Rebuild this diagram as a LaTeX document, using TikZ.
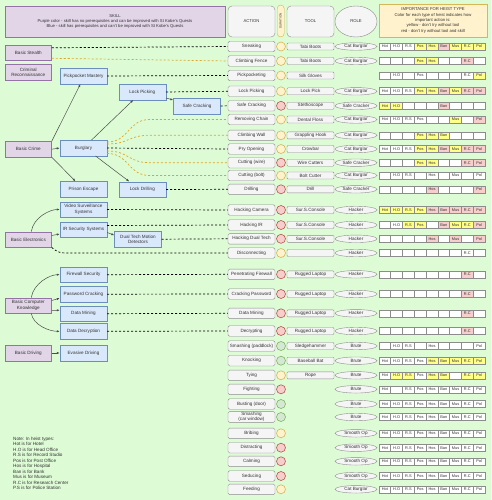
\documentclass[tikz,border=0pt]{standalone}
\usepackage{fontspec}
\setmainfont{Liberation Sans}
\usetikzlibrary{
  positioning,
  arrows.meta,
  calc,
  shapes.geometric
}
\definecolor{bgcol}{HTML}{DDFBD5}
\definecolor{skillpurple}{HTML}{E1D5E7}
\definecolor{skillpurpleline}{HTML}{9673A6}
\definecolor{skillblue}{HTML}{DAE8FC}
\definecolor{skillblueline}{HTML}{6C8EBF}
\definecolor{boxgray}{HTML}{F5F5F5}
\definecolor{boxline}{HTML}{8C8C8C}
\definecolor{textgray}{HTML}{333333}
\definecolor{yelfill}{HTML}{FFF2CC}
\definecolor{yeldraw}{HTML}{D6B656}
\definecolor{redfill}{HTML}{F8CECC}
\definecolor{reddraw}{HTML}{B85450}
\definecolor{grnfill}{HTML}{D5E8D4}
\definecolor{grndraw}{HTML}{82B366}
\definecolor{hcw}{HTML}{FFFFFF}
\definecolor{hce}{HTML}{FFFFFF}
\definecolor{hcy}{HTML}{FFFF88}
\definecolor{hcr}{HTML}{F8CECC}
\definecolor{golddash}{HTML}{DDA624}
\newcommand{\diagfont}{\fontsize{4.6}{5.4}\selectfont}
\newcommand{\hdrfont}{\fontsize{4.2}{5.3}\selectfont}
\newcommand{\cellfont}{\fontsize{3.9}{4.5}\selectfont}
\newcommand{\heistlab}[1]{\ifcase#1\or Hot\or H.O\or R.S\or Pos\or Hos\or Ban\or Mus\or R.C\or Pol\fi}

\begin{document}
\begin{tikzpicture}[
  x=1pt, y=-1pt,
  every node/.style={text=textgray},
  basic/.style={draw=skillpurpleline, fill=skillpurple, minimum width=46.5, minimum height=15.5,
                align=center, font=\diagfont, inner sep=1pt},
  adv/.style={draw=skillblueline, fill=skillblue, minimum width=47, minimum height=15.5,
              align=center, font=\diagfont, inner sep=1pt},
  action/.style={draw=boxline, fill=boxgray, rounded corners=1.5, minimum width=47,
                 minimum height=10.5, align=center, font=\diagfont, inner sep=0.5pt},
  durdot/.style={circle, minimum size=9, inner sep=0pt, line width=0.6pt},
  toolbox/.style={draw=boxline, fill=boxgray, rounded corners=1, minimum width=47,
                  minimum height=7, font=\diagfont, inner sep=0.5pt},
  rolebox/.style={ellipse, draw=boxline, fill=boxgray, minimum width=42, minimum height=7.5,
                  font=\diagfont, inner sep=0pt},
  hcell/.style={draw=boxline, line width=0.6pt, minimum width=11.78, minimum height=7,
                font=\cellfont, inner sep=0pt},
  skarrow/.style={draw=black!70, line width=0.5pt, -{Latex[length=3pt,width=2.2pt]}},
  blkdash/.style={black, line width=0.7pt, dash pattern=on 2pt off 2pt},
  yeldash/.style={golddash, line width=0.7pt, dash pattern=on 2pt off 2pt},
]
  \fill[bgcol] (0,0) rectangle (491,500);
  \useasboundingbox (0,0) rectangle (491,500);

  % headers
  \node[basic, minimum width=220, minimum height=31, font=\hdrfont] (hdSkill) at (115,21.5)
    {SKILL\\Purple color - skill has no prerequisites and can be improved with St Kobe's Quests\\
     Blue - skill has prerequisites and can't be improved with St Kobe's Quests};
  \node[action, minimum height=31, rounded corners=4, font=\hdrfont] (hdAction) at (251.5,21.5) {ACTION};
  \node[draw=yeldraw, fill=yelfill, rounded corners=3.5, minimum width=32, minimum height=7,
        inner sep=0pt, font=\fontsize{3}{3.5}\selectfont, rotate=90] (hdDur) at (280.7,21) {DURATION};
  \node[action, minimum height=31, rounded corners=4, font=\hdrfont] (hdTool) at (310.5,21.5) {TOOL};
  \node[rolebox, minimum height=31, font=\hdrfont] (hdRole) at (356,21.5) {ROLE};
  \node[draw=yeldraw, fill=yelfill, minimum width=108, minimum height=33, align=center,
        font=\hdrfont, inner sep=1pt] (hdHeist) at (433,20.5)
    {IMPORTANCE FOR HEIST TYPE\\Color for each type of heist indicates how\\important action is:\\
     yellow - don't try without tool\\red - don't try without tool and skill};

  \coordinate (colDur) at (281,0);
  \coordinate (colTool) at (310.5,0);
  \coordinate (colRole) at (356,0);

  % action rows: number / y / action / duration / heist cells
  \foreach \n/\y/\act/\dur/\cells in {
    1/46.5/Sneaking/yel/{w,w,w,y,y,r,y,y,y},
    2/61/Climbing Fence/yel/{e,e,e,y,y,e,e,r,e},
    3/75.5/Pickpocketing/yel/{e,w,e,w,e,e,e,w,y},
    4/91.3/Lock Picking/yel/{w,w,w,y,y,r,y,r,r},
    5/105.8/Safe Cracking/red/{y,y,e,e,e,r,e,e,e},
    6/119.5/Removing Chain/yel/{w,w,w,w,e,e,y,e,r},
    7/135.3/Climbing Wall/yel/{e,e,e,y,y,y,e,e,e},
    8/149/Pry Opening/yel/{w,w,w,y,y,r,y,r,r},
    9/162.7/Cutting (wire)/red/{e,e,e,y,y,e,e,r,r},
    10/175.5/Cutting (bolt)/yel/{e,w,w,e,w,e,w,e,w},
    11/189.3/Drilling/red/{e,e,e,e,r,e,e,e,r},
    12/210/Hacking Camera/red/{y,y,y,y,r,r,r,r,r},
    13/225/Hacking IR/red/{e,w,y,y,e,r,y,y,r},
    14/238.8/Hacking Dual Tech/red/{e,e,e,e,r,e,r,e,r},
    15/253/Disconnecting/yel/{e,e,e,e,e,e,e,w,e},
    16/274.3/Penetrating Firewall/red/{e,e,e,e,e,e,e,r,e},
    17/294/Cracking Password/red/{e,e,e,e,e,e,e,r,e},
    18/313.3/Data Mining/red/{e,e,e,e,e,e,e,r,e},
    19/331/Decrypting/red/{e,e,e,e,e,e,e,r,e},
    20/346/Smashing (paddlock)/grn/{e,w,w,e,w,e,e,e,w},
    21/360.7/Knocking/grn/{w,w,w,w,y,y,y,y,y},
    22/375.3/Tying/yel/{w,y,y,w,y,y,e,y,y},
    23/389.3/Fighting/red/{w,e,w,w,w,w,w,w,w},
    24/404/Busting (door)/grn/{w,w,w,w,w,w,w,w,w},
    25/417/Smashing\\(car window)/grn/{w,w,w,w,w,w,w,w,w},
    26/433.3/Bribing/yel/{w,w,w,w,w,w,w,w,w},
    27/447.7/Distracting/red/{w,w,w,w,w,w,w,w,w},
    28/461.3/Calming/red/{w,w,w,w,w,w,w,w,w},
    29/476/Seducing/red/{w,w,w,w,w,w,w,w,w},
    30/489.3/Feeding/yel/{w,w,w,w,w,w,w,w,w}}{
    \node[action] (act\n) at (251.5,\y) {\act};
    \node[durdot, fill=\dur fill, draw=\dur draw] (dur\n) at (colDur |- act\n) {};
    \foreach \hc [count=\k] in \cells
      \node[hcell, fill=hc\hc] (h\n-\k) at ({373.1+11.78*\k},\y) {\if\hc e\else\heistlab{\k}\fi};
  }

  % tools
  \foreach \n/\tool in {1/Tabi Boots, 2/Tabi Boots, 3/Silk Gloves, 4/Lock Pick, 5/Stethoscope,
      6/Dental Floss, 7/Grappling Hook, 8/Crowbar, 9/Wire Cutters, 10/Bolt Cutter, 11/Drill,
      12/Sur.S.Console, 13/Sur.S.Console, 14/Sur.S.Console, 15/{}, 16/Rugged Laptop,
      17/Rugged Laptop, 18/Rugged Laptop, 19/Rugged Laptop, 20/Sledgehammer,
      21/Baseball Bat, 22/Rope}
    \node[toolbox] (tool\n) at (colTool |- act\n) {\tool};

  % roles
  \foreach \n/\role in {1/Cat Burglar, 2/Cat Burglar, 4/Cat Burglar, 5/Safe Cracker,
      6/Cat Burglar, 7/Cat Burglar, 8/Cat Burglar, 9/Safe Cracker, 10/Cat Burglar,
      11/Safe Cracker, 12/Hacker, 13/Hacker, 14/Hacker, 15/Hacker, 16/Hacker, 17/Hacker,
      18/Hacker, 19/Hacker, 20/Brute, 21/Brute, 22/Brute, 23/Brute, 24/Brute, 25/Brute,
      26/Smooth Op, 27/Smooth Op, 28/Smooth Op, 29/Smooth Op, 30/Cat Burglar}
    \node[rolebox] (role\n) at (colRole |- act\n) {\role};

  % skills
  \node[basic] (skStealth) at (28.3,52.8) {Basic Stealth};
  \node[basic] (skRecon) at (28.3,72.3) {Criminal\\Reconnaissance};
  \node[basic] (skCrime) at (28.3,149.2) {Basic Crime};
  \node[basic] (skElec) at (28.3,239.5) {Basic Electronics};
  \node[basic] (skComputer) at (28.3,305.5) {Basic Computer\\Knowledge};
  \node[basic] (skDriving) at (28.3,353) {Basic Driving};

  \node[adv] (skPickpocket) at (83.5,76) {Pickpocket Mastery};
  \node[adv] (skLockPick) at (142.3,92) {Lock Picking};
  \node[adv] (skSafeCrack) at (197,106) {Safe Cracking};
  \node[adv] (skBurglary) at (83.5,148) {Burglary};
  \node[adv] (skPrison) at (83.5,189.3) {Prison Escape};
  \node[adv] (skLockDrill) at (142.3,189.5) {Lock Drilling};
  \node[adv] (skVideo) at (83.5,209.5) {Video Surveillance\\Systems};
  \node[adv] (skIR) at (83.5,229.5) {IR Security Systems};
  \node[adv] (skDualTech) at (138,239.2) {Dual Tech Motion\\Detectors};
  \node[adv] (skFirewall) at (83.5,274.7) {Firewall Security};
  \node[adv] (skPassword) at (83.5,294.2) {Password Cracking};
  \node[adv] (skDataMining) at (83.5,313.7) {Data Mining};
  \node[adv] (skDecryption) at (83.5,331.3) {Data Decryption};
  \node[adv] (skEvasive) at (83.5,353) {Evasive Driving};

  % prerequisites
  \draw[skarrow] (skCrime.north east) -- ($(skPickpocket.south)+(-3,0)$);
  \draw[skarrow] (skCrime.east) -- (skBurglary.west);
  \draw[skarrow] (skCrime.south east) -- ($(skPrison.north)+(-8,0)$);
  \draw[skarrow] ($(skBurglary.north)+(8,0)$) -- ($(skLockPick.south)+(-9,0)$);
  \draw[skarrow] ($(skLockPick.east)+(0,6)$) -- ($(skSafeCrack.west)+(0,-6)$);
  \draw[skarrow] ($(skBurglary.south)+(12,0)$) -- ($(skLockDrill.north)+(-13,0)$);
  \draw[skarrow] ($(skElec.north)+(3,0)$) .. controls +(2,-14) and +(-10,0) .. (skVideo.west);
  \draw[skarrow] ($(skElec.east)+(0,-4)$) -- ($(skIR.west)+(0,4.5)$);
  \draw[skarrow] ($(skIR.east)+(0,3)$) -- ($(skDualTech.west)+(0,-4)$);
  \draw[skarrow] ($(skComputer.north)+(3,0)$) .. controls +(2,-14) and +(-10,0) .. (skFirewall.west);
  \draw[skarrow] ($(skComputer.east)+(0,-5)$) -- ($(skPassword.west)+(0,4)$);
  \draw[skarrow] ($(skComputer.east)+(0,5)$) -- ($(skDataMining.west)+(0,-3.5)$);
  \draw[skarrow] ($(skComputer.south)+(3,0)$) .. controls +(2,12) and +(-10,0) .. (skDecryption.west);
  \draw[skarrow] (skDriving.east) -- (skEvasive.west);

  % skills to actions
  \draw[blkdash] ($(skStealth.east)+(0,-5)$) -- (act1.west);
  \draw[yeldash] ($(skStealth.east)+(0,5.5)$) -- (act2.west);
  \draw[blkdash] (skPickpocket.east) -- (act3.west);
  \draw[blkdash] (skLockPick.east) -- (act4.west);
  \draw[blkdash] (skSafeCrack.east) -- (act5.west);
  \draw[yeldash] ($(skBurglary.east)+(0,-6)$) .. controls +(22,0) and +(-22,0) .. ($(act6.west)+(-78,0)$) -- (act6.west);
  \draw[yeldash] ($(skBurglary.east)+(0,-4)$) .. controls +(22,0) and +(-22,0) .. ($(act7.west)+(-78,0)$) -- (act7.west);
  \draw[blkdash] (skBurglary.east) -- (act8.west);
  \draw[yeldash] ($(skBurglary.east)+(0,3)$) .. controls +(22,0) and +(-22,0) .. ($(act9.west)+(-78,0)$) -- (act9.west);
  \draw[yeldash] ($(skBurglary.east)+(0,5.5)$) .. controls +(22,0) and +(-22,0) .. ($(act10.west)+(-78,0)$) -- (act10.west);
  \draw[blkdash] (skLockDrill.east) -- (act11.west);
  \draw[blkdash] (skVideo.east) -- (act12.west);
  \draw[blkdash] ($(skIR.east)+(0,-4)$) -- (act13.west);
  \draw[blkdash] (skDualTech.east) -- (act14.west);
  \draw[blkdash] (skElec.south east) .. controls +(6,5) and +(-8,0) .. ($(act15.west)+(-160,0)$) -- (act15.west);
  \draw[blkdash] (skFirewall.east) -- (act16.west);
  \draw[blkdash] (skPassword.east) -- (act17.west);
  \draw[blkdash] (skDataMining.east) -- (act18.west);
  \draw[blkdash] (skDecryption.east) -- (act19.west);

  % legend
  \node[anchor=north west, align=left, font=\fontsize{4.6}{5.45}\selectfont, inner sep=0pt] (note) at (13,437)
    {Note: In heist types:\\Hot is for Hotel\\H.O is for Head Office\\R.S is for Record Studio\\
     Pos is for Post Office\\Hos is for Hospital\\Ban is for Bank\\Mus is for Museum\\
     R.C is for Research Center\\P.S is for Police Station};
\end{tikzpicture}
\end{document}
